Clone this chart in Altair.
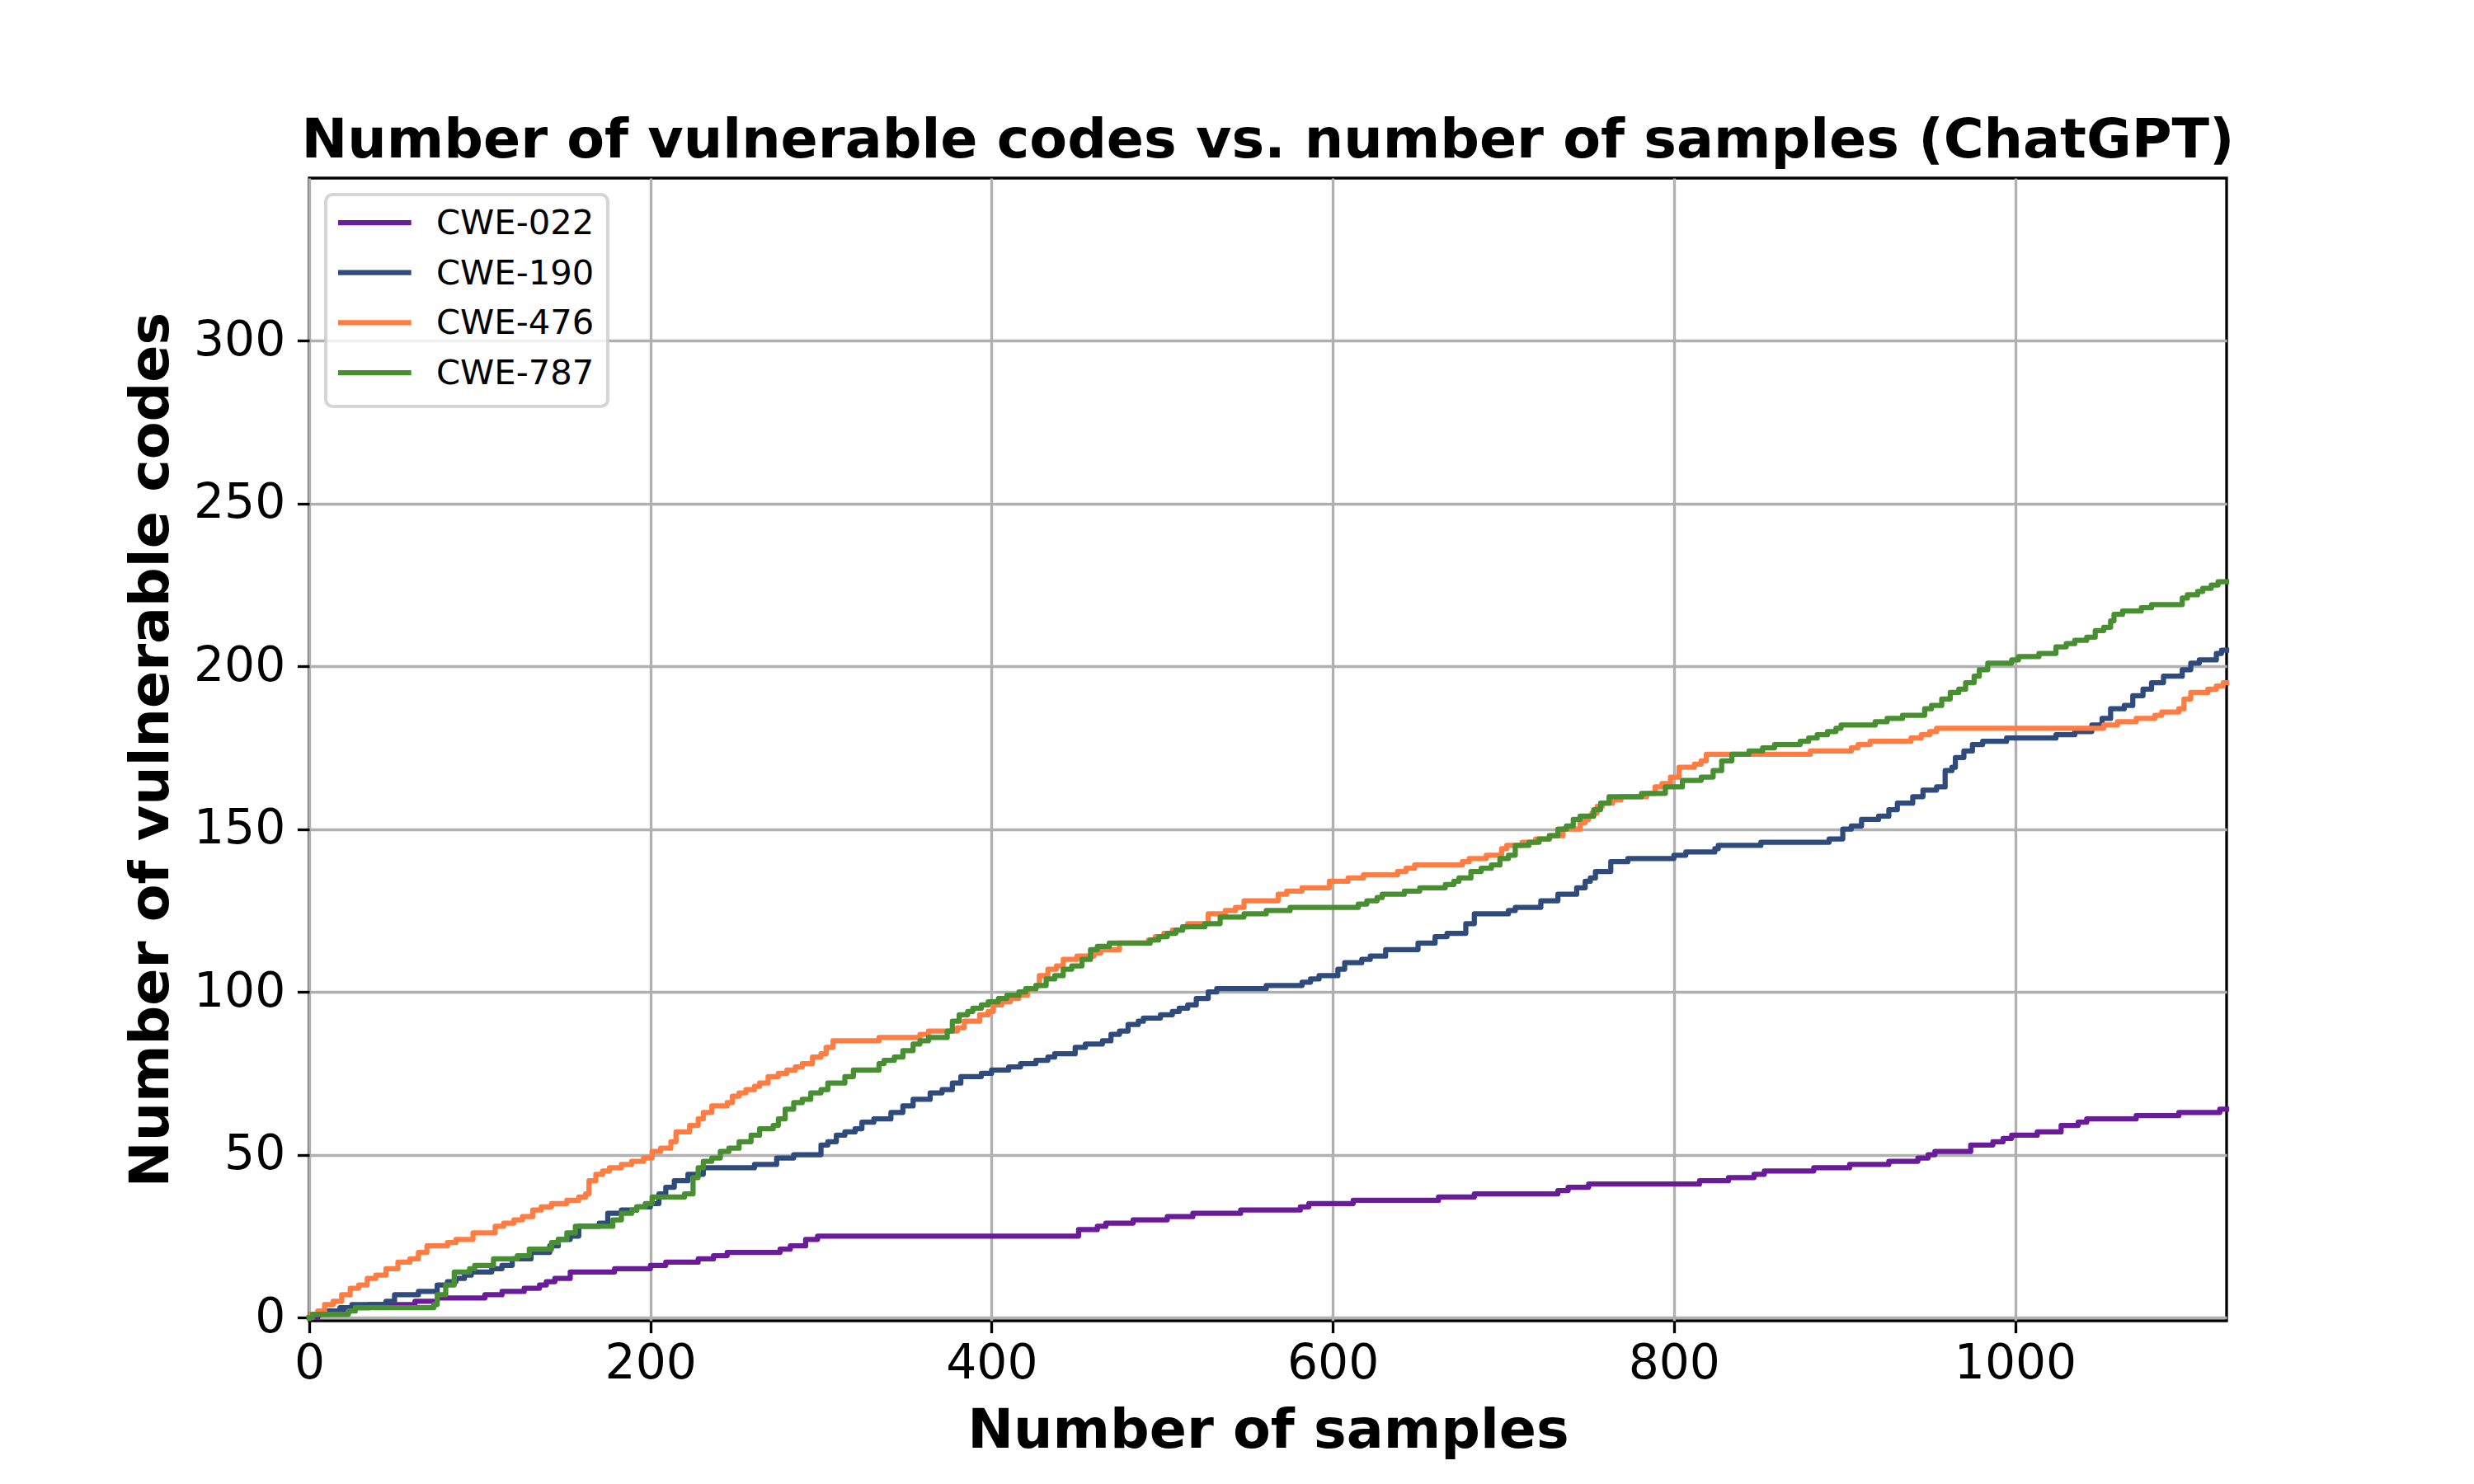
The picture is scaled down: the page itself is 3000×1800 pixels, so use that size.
import altair as alt
import pandas as pd

# ---------------- data ----------------
series_names = ["CWE-022", "CWE-190", "CWE-476", "CWE-787"]
series_colors = ["#6a1b9a", "#2f4b7c", "#ff7c43", "#488f31"]

# (sample index where the cumulative count changes, new count)
cwe022 = [(0, 0), (5, 1), (12, 2), (20, 3), (35, 4), (62, 5), (75, 6), (103, 7), (113, 8), (126, 9),
          (135, 10), (139, 11), (144, 12), (153, 14), (179, 15), (200, 16), (209, 17), (228, 18),
          (237, 19), (245, 20), (276, 21), (282, 22), (291, 24), (298, 25), (451, 27), (462, 28),
          (467, 29), (483, 30), (503, 31), (518, 32), (546, 33), (581, 34), (586, 35), (612, 36),
          (662, 37), (683, 38), (732, 39), (738, 40), (750, 41), (815, 42), (832, 43), (847, 44),
          (853, 45), (882, 46), (903, 47), (926, 48), (943, 49), (949, 50), (953, 51), (974, 53),
          (987, 54), (993, 55), (998, 56), (1013, 57), (1027, 59), (1037, 60), (1042, 61),
          (1071, 62), (1096, 63), (1120, 64), (1124, 64)]

cwe190 = [(0, 0), (1, 1), (7, 2), (18, 3), (25, 4), (45, 5), (50, 7), (64, 8), (75, 10), (81, 11),
          (86, 12), (91, 13), (95, 14), (107, 15), (113, 16), (119, 18), (130, 20), (141, 22),
          (146, 24), (153, 25), (158, 28), (170, 29), (175, 32), (183, 33), (192, 34), (200, 35),
          (205, 38), (209, 40), (214, 42), (222, 44), (231, 46), (261, 47), (274, 49), (284, 50),
          (300, 53), (304, 54), (309, 56), (314, 57), (320, 58), (324, 60), (331, 61), (341, 63),
          (348, 65), (354, 67), (364, 69), (371, 70), (377, 72), (382, 74), (394, 75), (400, 76),
          (410, 77), (417, 78), (426, 79), (433, 80), (437, 81), (449, 83), (455, 84), (465, 85),
          (470, 87), (475, 88), (480, 90), (486, 91), (489, 92), (499, 93), (506, 94), (510, 95),
          (515, 96), (520, 98), (527, 100), (532, 101), (561, 102), (582, 103), (587, 104),
          (592, 105), (603, 107), (607, 109), (617, 110), (622, 111), (631, 113), (650, 115),
          (660, 117), (667, 118), (678, 121), (683, 124), (703, 125), (707, 126), (722, 128),
          (732, 130), (743, 132), (748, 134), (751, 135), (754, 137), (763, 140), (773, 141),
          (800, 142), (807, 143), (824, 144), (826, 145), (851, 146), (891, 147), (899, 150),
          (904, 151), (910, 153), (920, 154), (926, 156), (931, 158), (940, 160), (946, 162),
          (954, 163), (959, 168), (963, 169), (965, 172), (970, 174), (975, 176), (981, 177),
          (995, 178), (1024, 179), (1035, 180), (1045, 182), (1051, 184), (1056, 187),
          (1064, 188), (1069, 191), (1075, 193), (1080, 195), (1087, 197), (1098, 199),
          (1103, 201), (1108, 202), (1118, 204), (1121, 205), (1124, 205)]

cwe476 = [(0, 0), (1, 1), (5, 2), (9, 4), (14, 5), (19, 7), (24, 9), (29, 10), (34, 12), (39, 13),
          (45, 15), (52, 17), (59, 18), (64, 20), (69, 22), (81, 23), (86, 24), (96, 26), (109, 28),
          (114, 29), (120, 30), (125, 31), (131, 33), (136, 34), (142, 35), (151, 36), (158, 37),
          (162, 38), (164, 42), (168, 44), (172, 45), (176, 46), (183, 47), (189, 48), (196, 49),
          (201, 51), (206, 52), (212, 54), (215, 57), (223, 59), (228, 61), (231, 63), (236, 65),
          (245, 66), (248, 68), (252, 69), (256, 70), (261, 71), (264, 72), (269, 74), (275, 75),
          (280, 76), (285, 77), (289, 78), (295, 80), (300, 81), (303, 83), (307, 85), (334, 86),
          (358, 87), (363, 88), (380, 89), (384, 91), (393, 93), (398, 94), (401, 96), (406, 97),
          (411, 98), (416, 99), (421, 101), (426, 102), (428, 105), (433, 107), (438, 108),
          (442, 110), (450, 111), (460, 112), (464, 113), (475, 115), (492, 116), (496, 117),
          (501, 118), (506, 119), (512, 120), (515, 121), (527, 124), (537, 125), (543, 126),
          (548, 128), (568, 130), (573, 131), (582, 132), (598, 134), (609, 135), (618, 136),
          (638, 137), (643, 138), (648, 139), (676, 140), (680, 141), (690, 142), (699, 144),
          (702, 145), (711, 146), (719, 147), (727, 148), (735, 150), (745, 152), (748, 153),
          (750, 154), (752, 155), (755, 157), (758, 158), (764, 159), (769, 160), (784, 161),
          (789, 163), (793, 164), (798, 166), (803, 169), (812, 170), (816, 171), (819, 173),
          (880, 174), (904, 175), (908, 176), (915, 177), (939, 178), (945, 179), (950, 180),
          (954, 181), (1052, 182), (1060, 183), (1071, 184), (1082, 185), (1086, 186),
          (1096, 187), (1099, 190), (1103, 192), (1113, 193), (1118, 194), (1122, 195),
          (1124, 195)]

cwe787 = [(0, 0), (2, 1), (23, 2), (27, 3), (73, 4), (75, 7), (80, 10), (85, 14), (94, 15), (97, 16),
          (108, 18), (122, 19), (129, 21), (142, 23), (146, 24), (151, 26), (156, 28), (178, 30),
          (183, 32), (189, 33), (192, 34), (197, 35), (201, 37), (220, 38), (225, 43), (228, 46),
          (231, 48), (236, 49), (241, 51), (246, 52), (252, 54), (259, 56), (264, 58), (272, 59),
          (275, 61), (279, 64), (284, 66), (289, 67), (294, 69), (300, 70), (304, 72), (314, 74),
          (319, 76), (334, 78), (337, 79), (343, 80), (348, 82), (354, 84), (358, 85), (363, 86),
          (374, 88), (377, 91), (381, 93), (386, 94), (389, 95), (394, 96), (398, 97), (404, 98),
          (409, 99), (416, 100), (420, 101), (426, 102), (432, 104), (437, 105), (442, 107),
          (447, 108), (453, 110), (458, 113), (462, 114), (469, 115), (493, 116), (498, 117),
          (503, 118), (508, 119), (512, 120), (525, 121), (534, 123), (548, 124), (561, 125),
          (575, 126), (615, 127), (620, 128), (626, 129), (629, 130), (642, 131), (651, 132),
          (666, 133), (671, 134), (674, 135), (681, 137), (687, 138), (693, 139), (698, 141),
          (703, 142), (707, 145), (715, 146), (721, 147), (727, 148), (732, 150), (737, 151),
          (741, 153), (745, 154), (753, 156), (757, 158), (762, 160), (781, 161), (795, 163),
          (805, 165), (816, 166), (823, 168), (828, 171), (834, 173), (844, 174), (852, 175),
          (859, 176), (874, 177), (879, 178), (884, 179), (890, 180), (895, 181), (898, 182),
          (918, 183), (925, 184), (934, 185), (947, 187), (951, 188), (957, 190), (962, 192),
          (967, 193), (971, 195), (976, 197), (979, 199), (984, 201), (998, 202), (1002, 203),
          (1014, 204), (1024, 206), (1030, 207), (1035, 208), (1042, 209), (1047, 211),
          (1052, 212), (1056, 214), (1058, 216), (1063, 217), (1074, 218), (1080, 219),
          (1098, 221), (1101, 222), (1107, 223), (1110, 224), (1115, 225), (1119, 226),
          (1124, 226)]

x_ticks = [0, 200, 400, 600, 800, 1000]
y_ticks = [0, 50, 100, 150, 200, 250, 300]

title_text = "Number of vulnerable codes vs. number of samples (ChatGPT)"
x_title = "Number of samples"
y_title = "Number of vulnerable codes"

# ---------------- build table ----------------
rows = []
for name, pts in zip(series_names, [cwe022, cwe190, cwe476, cwe787]):
    for sx, sy in pts:
        rows.append({"samples": sx, "count": sy, "series": name})
df = pd.DataFrame(rows)

FONT = "DejaVu Sans"
W, H = 2325, 1386

color_scale = alt.Scale(domain=series_names, range=series_colors)

lines = alt.Chart(df).mark_line(
    interpolate="step-after", strokeWidth=6.25, strokeJoin="round", strokeCap="square"
).encode(
    x=alt.X("samples:Q",
            scale=alt.Scale(domain=[0, 1124], nice=False, zero=False),
            axis=alt.Axis(values=x_ticks, title=x_title, labelPadding=9, format="d",
                          labelFlush=False,
                          titleBaseline="alphabetic", titleY=153)),
    y=alt.Y("count:Q",
            scale=alt.Scale(domain=[-1, 350], nice=False, zero=False),
            axis=alt.Axis(values=y_ticks, title=y_title, labelPadding=14.6, format="d",
                          labelFlush=False,
                          titleBaseline="alphabetic", titleX=-172, titleY=H / 2)),
    color=alt.Color("series:N", scale=color_scale, legend=None),
)

# ---------------- legend (matplotlib-style box in the upper left) ----------------
one = alt.Data(values=[{}])
legend_box = alt.Chart(one).mark_rect(
    fill="white", fillOpacity=0.8, stroke="#cccccc", strokeOpacity=0.8,
    strokeWidth=4.17, cornerRadius=8.3
).encode(x=alt.value(20), x2=alt.value(362), y=alt.value(20), y2=alt.value(277))

legend_layers = [legend_box]
for i, (name, col) in enumerate(zip(series_names, series_colors)):
    ry = 54 + i * 60.7
    legend_layers.append(
        alt.Chart(one).mark_rule(color=col, strokeWidth=6.25).encode(
            x=alt.value(35), x2=alt.value(123.7), y=alt.value(ry))
    )
    legend_layers.append(
        alt.Chart(one).mark_text(text=name, align="left", baseline="alphabetic",
                                 font=FONT, fontSize=41.7, color="black").encode(
            x=alt.value(154), y=alt.value(ry + 14))
    )

chart = alt.layer(lines, *legend_layers).properties(
    width=W, height=H,
    title=alt.TitleParams(title_text, anchor="middle", frame="group", offset=25,
                          baseline="alphabetic", dy=67),
    autosize=alt.AutoSizeParams(type="none"),
    padding={"left": 367, "top": 208, "right": 290, "bottom": 190},
).configure_view(
    stroke="black", strokeWidth=3.33
).configure_axis(
    labelFont=FONT, labelFontSize=58.3, labelColor="black",
    titleFont=FONT, titleFontSize=66.7, titleFontWeight="bold", titleColor="black",
    grid=True, gridColor="#b0b0b0", gridWidth=3.33,
    tickColor="black", tickWidth=3.33, tickSize=14.6, domain=False,
).configure_title(
    font=FONT, fontSize=66.7, fontWeight="bold", color="black"
)

chart.save("out.html", embed_options={"renderer": "svg", "actions": False})
